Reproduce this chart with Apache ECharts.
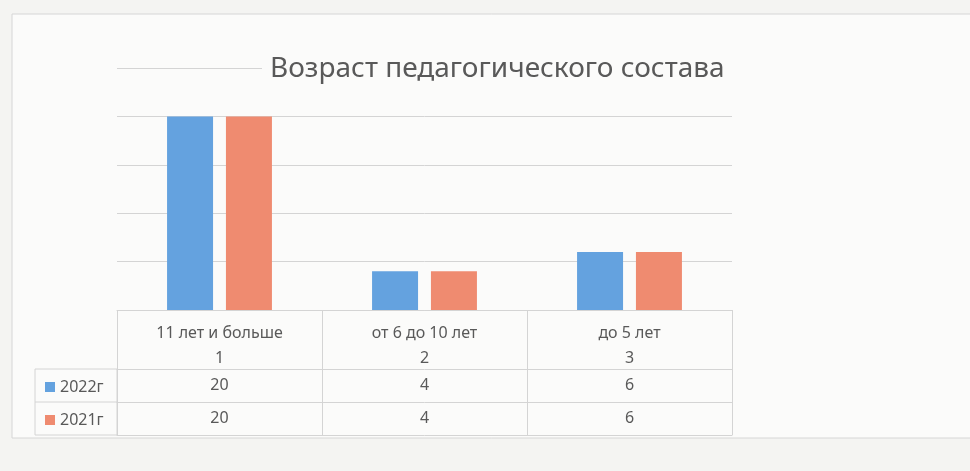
<!DOCTYPE html>
<html>
<head>
<meta charset="utf-8">
<script src="https://cdn.jsdelivr.net/npm/echarts@6/dist/echarts.min.js"></script>
<style>
  html, body { margin: 0; padding: 0; background: #f4f4f2; }
  #chart { width: 970px; height: 471px; }
</style>
</head>
<body>
<div id="chart"></div>
<script>
// data
const categories = ['11 лет и больше', 'от 6 до 10 лет', 'до 5 лет']
const categoryIndex = ['1', '2', '3']
const seriesNames = ['2022г', '2021г']
const values2022 = [20, 4, 6]
const values2021 = [20, 4, 6]
const yTicks = [0, 5, 10, 15, 20, 25]

const textColor = '#595959'
const lineColor = '#d4d4d4'
const colors = ['#64a2df', '#ef8b70']

const chart = echarts.init(document.getElementById('chart'))

// extra category axes used as rows of the data table
function rowAxis(data, offset, show) {
  return {
    type: 'category',
    gridIndex: 0,
    position: 'bottom',
    offset: offset,
    data: data.map(String),
    axisLine: { show: true, lineStyle: { color: lineColor } },
    axisTick: { show: false },
    axisLabel: { show: show, margin: 8, fontSize: 16, color: textColor, fontFamily: 'Noto Sans' }
  }
}

chart.setOption({
  backgroundColor: '#f4f4f2',
  color: colors,
  title: {
    text: 'Возраст педагогического состава',
    left: 262,
    top: 55,
    padding: [0, 8],
    backgroundColor: '#fbfbfa',
    textStyle: {
      fontFamily: 'Noto Sans',
      fontWeight: 'normal',
      fontSize: 28,
      color: textColor
    }
  },
  legend: {
    orient: 'vertical',
    left: 40,
    top: 374,
    icon: 'rect',
    itemWidth: 10,
    itemHeight: 10,
    itemGap: 17,
    data: seriesNames,
    textStyle: { fontSize: 16, color: textColor, fontFamily: 'Noto Sans' }
  },
  grid: {
    left: 117,
    right: 238,
    top: 68,
    bottom: 161
  },
  graphic: [
    {
      type: 'rect',
      z: -10,
      shape: { x: 12, y: 14, width: 990, height: 424 },
      style: { fill: '#fbfbfa', stroke: '#d6d6d6', lineWidth: 1 }
    },
    {
      type: 'rect',
      shape: { x: 35, y: 369, width: 82, height: 66 },
      style: { fill: 'none', stroke: lineColor, lineWidth: 1 }
    },
    {
      type: 'line',
      shape: { x1: 35, y1: 402, x2: 117, y2: 402 },
      style: { stroke: lineColor, lineWidth: 1 }
    }
  ],
  xAxis: [
    {
      type: 'category',
      data: categories,
      axisLine: { show: true, lineStyle: { color: lineColor } },
      axisTick: { show: true, length: 125, lineStyle: { color: lineColor } },
      axisLabel: {
        margin: 11,
        interval: 0,
        formatter: function (value, idx) {
          return '{a|' + value + '}\n{b|' + categoryIndex[idx] + '}'
        },
        rich: {
          a: { fontSize: 16, color: textColor, fontFamily: 'Noto Sans', lineHeight: 24 },
          b: { fontSize: 16, color: textColor, fontFamily: 'Noto Sans', lineHeight: 26 }
        }
      }
    },
    rowAxis(values2022, 59, true),
    rowAxis(values2021, 92, true),
    rowAxis(values2021, 125, false)
  ],
  yAxis: {
    type: 'value',
    min: yTicks[0],
    max: yTicks[yTicks.length - 1],
    interval: 5,
    axisLine: { show: false },
    axisTick: { show: false },
    axisLabel: { show: false },
    splitLine: { lineStyle: { color: lineColor } }
  },
  series: [
    {
      name: seriesNames[0],
      type: 'bar',
      xAxisIndex: 0,
      barWidth: 46,
      barGap: '28%',
      data: values2022
    },
    {
      name: seriesNames[1],
      type: 'bar',
      xAxisIndex: 0,
      barWidth: 46,
      data: values2021
    }
  ]
})
</script>
</body>
</html>
